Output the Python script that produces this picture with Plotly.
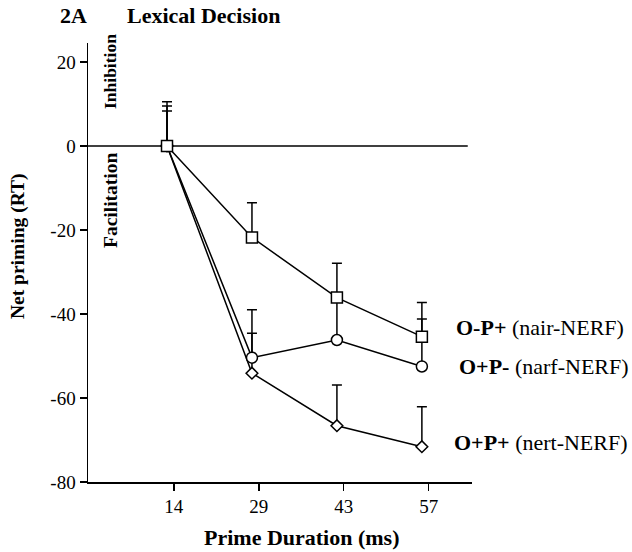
import plotly.graph_objects as go

durations = ["14", "29", "43", "57"]
x_pos = [1, 2, 3, 4]
y_ticks = [20, 0, -20, -40, -60, -80]
y_tick_text = ["20", "0", "-20", "-40", "-60", "-80"]

opp_label = "<b>O-P+</b> (nair-NERF)"
opp_vals = [0, -21.8, -36.1, -45.4]
opp_err_top = [10.5, -13.5, -27.9, -37.3]

opm_label = "<b>O+P-</b> (narf-NERF)"
opm_vals = [0, -50.4, -46.2, -52.5]
opm_err_top = [9.5, -39.0, -37.0, -41.2]

opo_label = "<b>O+P+</b> (nert-NERF)"
opo_vals = [0, -54.1, -66.6, -71.6]
opo_err_top = [8.3, -44.6, -56.9, -62.1]

FONT = "Liberation Serif"

PL, PT, PW, PH = 88, 43, 384, 439  # plot area in page pixels

fig = go.Figure()

series = [
    (opo_vals, opo_err_top, "diamond", 9),
    (opm_vals, opm_err_top, "circle", 11),
    (opp_vals, opp_err_top, "square", 11),
]
for vals, tops, sym, size in series:
    fig.add_trace(go.Scatter(
        x=x_pos, y=vals, mode="lines+markers",
        line=dict(color="black", width=1.5),
        marker=dict(symbol=sym, size=size, color="white",
                    line=dict(color="black", width=1.5)),
        error_y=dict(type="data", symmetric=False,
                     array=[t - v for t, v in zip(tops, vals)],
                     arrayminus=[0] * len(vals),
                     color="black", thickness=1.5, width=5),
        showlegend=False, cliponaxis=False,
    ))

# zero line
fig.add_shape(type="line", xref="x", yref="y", x0=0.07, x1=4.54, y0=0, y1=0,
              line=dict(color="black", width=1.5), layer="below")

fig.update_layout(
    width=632, height=552,
    margin=dict(l=PL, r=632 - PL - PW, t=PT, b=552 - PT - PH, pad=0),
    paper_bgcolor="white", plot_bgcolor="white",
    font=dict(family=FONT, color="black", size=19),
    xaxis=dict(range=[0.07, 4.59], tickvals=[p + 0.08 for p in x_pos], ticktext=durations,
               showline=True, linecolor="black", linewidth=1.5,
               ticks="outside", ticklen=7, tickwidth=1.5, tickcolor="black",
               showgrid=False, zeroline=False,
               tickfont=dict(family=FONT, size=19)),
    yaxis=dict(range=[-80, 24.5], tickvals=y_ticks, ticktext=y_tick_text,
               showline=True, linecolor="black", linewidth=1.5,
               ticks="outside", ticklen=7, tickwidth=1.5, tickcolor="black",
               showgrid=False, zeroline=False,
               tickfont=dict(family=FONT, size=19)),
)

annotations = [
    dict(text="<b>2A</b>", x=58, y=15, xanchor="left", size=22),
    dict(text="<b>Lexical Decision</b>", x=125, y=15, xanchor="left", size=22),
    dict(text="<b>Prime Duration (ms)</b>", x=302, y=537, xanchor="center", size=22),
    dict(text="<b>Net priming (RT)</b>", x=18, y=246, xanchor="center", size=19.5, angle=-90),
    dict(text="<b>Inhibition</b>", x=110, y=72, xanchor="center", size=17.5, angle=-90),
    dict(text="<b>Facilitation</b>", x=110, y=201, xanchor="center", size=19.5, angle=-90),
]
for a in annotations:
    fig.add_annotation(
        text=a["text"], xref="paper", yref="paper",
        x=(a["x"] - PL) / PW, y=1 - (a["y"] - PT) / PH,
        xanchor=a["xanchor"], yanchor="middle", showarrow=False,
        textangle=a.get("angle", 0),
        font=dict(family=FONT, size=a["size"], color="black"),
    )

for label, yv, xv in [(opp_label, -43.3, 4.38), (opm_label, -52.6, 4.41), (opo_label, -70.5, 4.36)]:
    fig.add_annotation(text=label, xref="x", yref="y", x=xv, y=yv,
                       xanchor="left", yanchor="middle", showarrow=False,
                       font=dict(family=FONT, size=22, color="black"))

fig.write_html("out.html", config={"displayModeBar": False, "staticPlot": True},
               post_script="document.body.style.margin='0';document.body.style.padding='0';")
